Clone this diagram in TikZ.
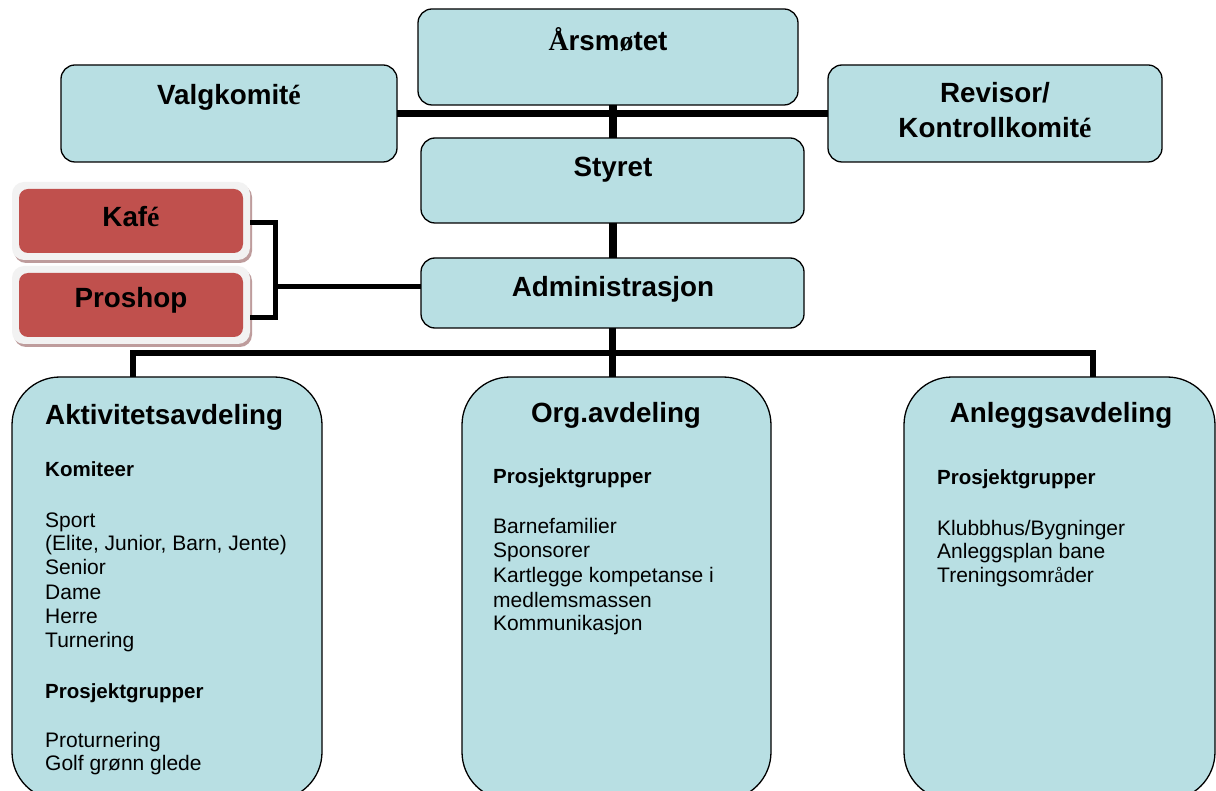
\documentclass[tikz,border=0pt]{standalone}
\usepackage{fontspec}
\setmainfont{Liberation Sans}
\newfontfamily\seriffam{Liberation Serif}
\usetikzlibrary{shadows}
\definecolor{boxblue}{HTML}{B8DFE3}
\definecolor{kred}{HTML}{C0504D}
\definecolor{kglow}{HTML}{F2F2F2}
\definecolor{kshadow}{HTML}{BE9C9C}
\newcommand\titlefont{\fontsize{27.8pt}{32pt}\selectfont\bfseries}
\newcommand\itemfont{\fontsize{21pt}{24pt}\selectfont}
\newcommand\headfont{\fontsize{20.5pt}{24pt}\selectfont\bfseries}
\begin{document}
\begin{tikzpicture}[x=1pt,y=-1pt,
  topbox/.style={draw=black,line width=1.3pt,fill=boxblue,rounded corners=14pt,inner sep=0pt,outer sep=0pt},
  deptbox/.style={draw=black,line width=1.3pt,fill=boxblue,rounded corners=48pt,inner sep=0pt,outer sep=0pt,minimum height=423pt},
  glowbox/.style={fill=kglow,rounded corners=12pt,minimum width=238pt,minimum height=78pt,inner sep=0pt,outer sep=0pt,drop shadow={shadow xshift=2pt,shadow yshift=-3pt,fill=kshadow,opacity=1}},
  redbox/.style={fill=kred,rounded corners=9pt,minimum width=224pt,minimum height=64pt,inner sep=0pt,outer sep=0pt},
  ttl/.style={inner sep=0pt,font=\titlefont,anchor=base},
  itm/.style={inner sep=0pt,font=\itemfont,anchor=base west},
  hd/.style={inner sep=0pt,font=\headfont,anchor=base west},
  bar/.style={line width=7pt,draw=black},
  thinbar/.style={line width=5pt,draw=black}]
\useasboundingbox (0,0) rectangle (1216,791);
\fill[white] (0,0) rectangle (1216,791);

% top boxes
\node[topbox,minimum width=380pt,minimum height=96pt] (aars) at (608,57) {};
\node[topbox,minimum width=336pt,minimum height=97pt] (valg) at (229,113.5) {};
\node[topbox,minimum width=334pt,minimum height=97pt] (rev) at (995,113.5) {};
\node[topbox,minimum width=383pt,minimum height=85pt] (styret) at (612.5,180.5) {};
\node[topbox,minimum width=383pt,minimum height=70pt] (admin) at (612.5,293) {};

% red boxes
\node[glowbox] (kafeglow) at (131,221) {};
\node[redbox] (kafe) at (131,221) {};
\node[glowbox] (proshopglow) at (131,305) {};
\node[redbox] (proshop) at (131,305) {};

% department boxes
\node[deptbox,minimum width=310pt] (akt) at (167,588.5) {};
\node[deptbox,minimum width=309pt] (org) at (616.5,588.5) {};
\node[deptbox,minimum width=311pt] (anl) at (1059.5,588.5) {};

% connectors
\draw[bar] (valg.east) -- (rev.west);
\draw[bar,line width=8pt] (aars.south -| styret.north) -- (styret.north);
\draw[bar,line width=8pt] (styret.south) -- (admin.north);
\draw[bar] (admin.south) -- (admin.south |- org.north);
\coordinate (bl) at (133,353);
\coordinate (br) at (1093,353);
\draw[line width=6pt] (bl |- akt.north) -- (bl) -- (br) -- (br |- anl.north);
\coordinate (bx) at (275,287);
\draw[thinbar] ([yshift=-2pt]kafeglow.east) -| (bx) |- ([yshift=-13pt]proshopglow.east);
\draw[thinbar] (bx) -- (bx -| admin.west);

% titles of top boxes
\node[ttl] (taars) at (608,51) {{\seriffam Å}rsm{\seriffam ø}tet};
\node[ttl] (tvalg) at (229,105) {Valgkomit{\seriffam é}};
\node[ttl] (trev1) at (995,103) {Revisor/};
\node[ttl] (trev2) at (995,138) {Kontrollkomit{\seriffam é}};
\node[ttl] (tstyret) at (613,177) {Styret};
\node[ttl] (tadmin) at (613,297) {Administrasjon};
\node[ttl] (tkafe) at (131,227) {Kaf{\seriffam é}};
\node[ttl] (tproshop) at (131,308) {Proshop};

% Aktivitetsavdeling
\node[ttl,anchor=base west] (takt) at (45,425) {Aktivitetsavdeling};
\node[hd] (a1) at (45,476) {Komiteer};
\node[itm] (a2) at (45,527) {Sport};
\node[itm] (a3) at (45,550) {(Elite, Junior, Barn, Jente)};
\node[itm] (a4) at (45,574) {Senior};
\node[itm] (a5) at (45,599) {Dame};
\node[itm] (a6) at (45,623) {Herre};
\node[itm] (a7) at (45,647) {Turnering};
\node[hd] (a8) at (45,698) {Prosjektgrupper};
\node[itm] (a9) at (45,747) {Proturnering};
\node[itm] (a10) at (45,770) {Golf grønn glede};

% Org.avdeling
\node[ttl] (torg) at (616,423) {Org.avdeling};
\node[hd] (o1) at (493,483) {Prosjektgrupper};
\node[itm] (o2) at (493,533) {Barnefamilier};
\node[itm] (o3) at (493,557) {Sponsorer};
\node[itm] (o4) at (493,582) {Kartlegge kompetanse i};
\node[itm] (o5) at (493,607) {medlemsmassen};
\node[itm] (o6) at (493,630) {Kommunikasjon};

% Anleggsavdeling
\node[ttl] (tanl) at (1061,423) {Anleggsavdeling};
\node[hd] (n1) at (937,485) {Prosjektgrupper};
\node[itm] (n2) at (937,535) {Klubbhus/Bygninger};
\node[itm] (n3) at (937,558) {Anleggsplan bane};
\node[itm] (n4) at (937,582) {Treningsomr{\seriffam å}der};
\end{tikzpicture}
\end{document}
